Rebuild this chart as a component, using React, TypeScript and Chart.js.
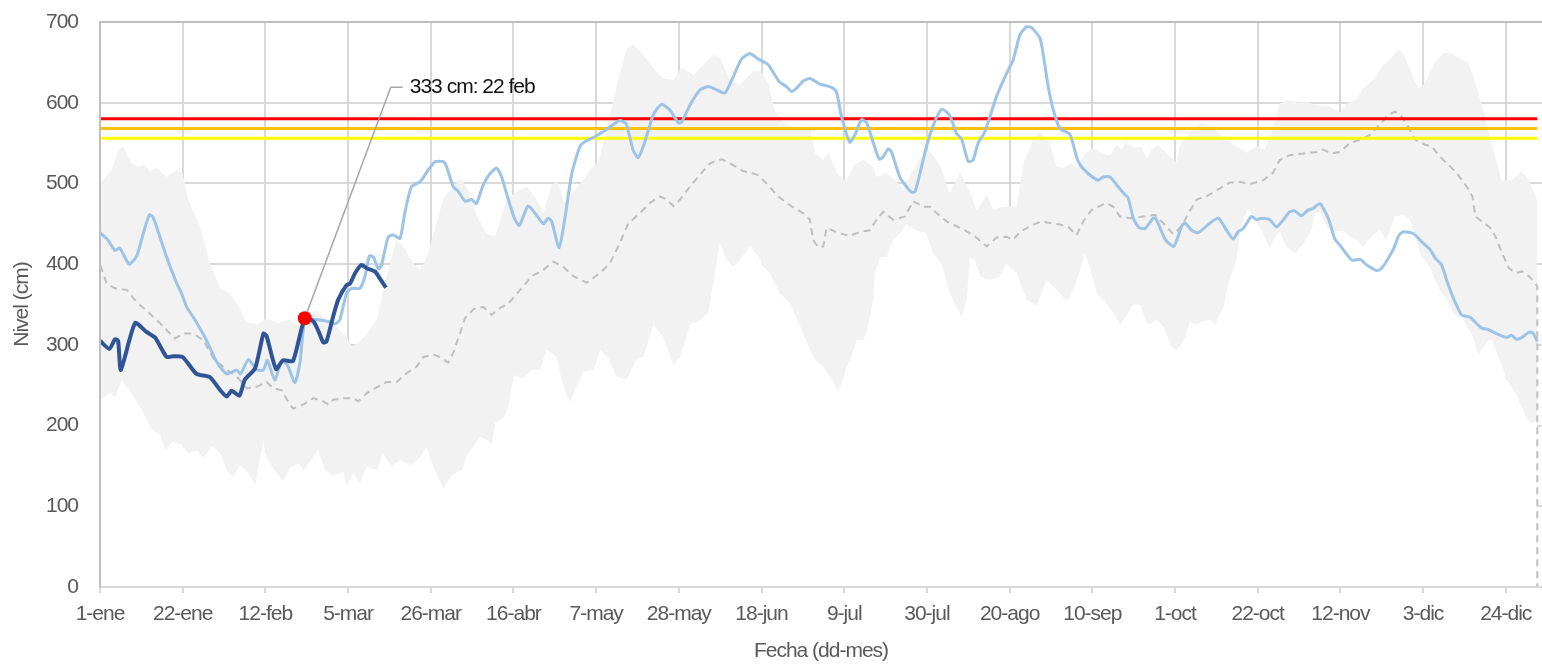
import { useEffect, useRef } from 'react';
import { Chart, registerables } from 'chart.js';

Chart.register(...registerables);

const FONT_FAMILY = "'Liberation Sans Narrow', 'Arial Narrow', 'Liberation Sans', Arial, sans-serif";
const FONT_SIZE = 21;

// x axis: day of year (0 = 1-ene)
const TICK_DAYS = [0, 21, 42, 63, 84, 105, 126, 147, 168, 189, 210, 231, 252, 273, 294, 315, 336, 357];
const TICK_LABELS = ['1-ene', '22-ene', '12-feb', '5-mar', '26-mar', '16-abr', '7-may', '28-may', '18-jun', '9-jul', '30-jul', '20-ago', '10-sep', '1-oct', '22-oct', '12-nov', '3-dic', '24-dic'];
const X_MAX = 366.2;
const Y_MAX = 700;
const Y_STEP = 100;

// Thresholds (cm)
const THRESHOLD_RED = 580;
const THRESHOLD_ORANGE = 568;
const THRESHOLD_YELLOW = 556;
const THRESHOLD_SPAN = [0, 365];

// Highlighted reading
const HIGHLIGHT_DAY = 52;
const HIGHLIGHT_VALUE = 333;
const HIGHLIGHT_DATE = '22 feb';

// Current year (dark blue)
const CURRENT_YEAR: [number, number][] = [
  [0, 305], [2.4, 295], [3.8, 307], [4.6, 305], [5.3, 269], [8.9, 327], [11.8, 316], [14, 309], [16.9, 285], [18.6, 286],
  [21, 285], [24.5, 264], [27.9, 260], [30.5, 244], [32.2, 236], [33.4, 243], [35.4, 237], [36.8, 257], [39.4, 271], [41.5, 314],
  [42.3, 311], [44.7, 270], [46.5, 281], [49, 280], [52, 333], [54.2, 329], [55.4, 318], [56.7, 303], [57.5, 304], [59.2, 335],
  [60.5, 356], [62.6, 374], [63.5, 376], [64.8, 389], [66.4, 399], [67.7, 395], [69.8, 391], [71.1, 382], [72.6, 371],
];

// Previous year (light blue)
const LAST_YEAR: [number, number][] = [
  [0, 439], [2, 430], [3.8, 417], [5, 420], [7.4, 400], [9.3, 410], [11, 438], [12.5, 461], [13.5, 458], [16.9, 409],
  [19.5, 376], [20.7, 364], [22, 347], [24.1, 331], [27, 306], [29.6, 279], [32.2, 264], [34.7, 269], [35.7, 264], [37.7, 282],
  [39.8, 269], [41.5, 269], [42.5, 281], [44.4, 256], [46.1, 280], [47.6, 275], [49.5, 253], [50.8, 279], [52.1, 331], [55, 331],
  [57, 330], [58, 329], [59.7, 326], [60.9, 331], [62.6, 364], [63.9, 370], [66, 370], [67.3, 385], [68.4, 410], [69.4, 409],
  [70.7, 394], [71.5, 399], [73.2, 434], [74.5, 436], [76.2, 432], [77.4, 463], [79.1, 496], [81.3, 502], [83.4, 517], [85.1, 527],
  [87.2, 527], [88, 521], [89.7, 496], [91, 490], [92.7, 478], [94.4, 480], [95.6, 475], [97.3, 498], [99, 512], [100.7, 519],
  [102, 508], [103.7, 480], [105.4, 455], [106.5, 448], [108.7, 472], [110.5, 463], [112.6, 450], [113.8, 457], [114.7, 453], [116.6, 420],
  [118, 455], [119.8, 512], [121.9, 546], [123.2, 552], [125.7, 558], [127.4, 563], [129.5, 570], [132, 578], [133.6, 574], [135.4, 541],
  [136.7, 532], [138.4, 552], [140.5, 585], [142.6, 598], [144.7, 591], [146.9, 575], [147.7, 576], [149.8, 597], [152.4, 616], [154.5, 620],
  [156.6, 616], [158.7, 612], [160.8, 632], [162.9, 654], [165, 661], [167.2, 654], [169.7, 647], [172.5, 626], [174.3, 620], [175.6, 614],
  [176.9, 618], [178.6, 627], [180.3, 630], [182.8, 623], [184.5, 621], [186.2, 618], [187.1, 612], [188.3, 583], [190.4, 551], [191.7, 560],
  [193.4, 579], [194.7, 575], [196.4, 550], [197.9, 530], [198.9, 533], [200.2, 543], [201, 539], [203.1, 508], [204.8, 496], [206.1, 489],
  [207, 490], [208.2, 512], [209.9, 546], [211.6, 572], [213.7, 592], [215.7, 585], [217.5, 562], [218.8, 555], [220.5, 527], [221.7, 529],
  [223, 550], [224.7, 564], [227.7, 608], [230.2, 636], [231.9, 653], [233.6, 684], [235.3, 694], [236.6, 693], [238.7, 680], [239.5, 661],
  [240.8, 620], [242.1, 591], [243.8, 568], [246.3, 561], [248, 533], [248.9, 523], [251, 512], [253.5, 504], [254.8, 508], [256.5, 508],
  [258.2, 498], [259.9, 488], [261.1, 482], [262.4, 457], [263.7, 446], [265.4, 444], [267.5, 457], [268.2, 456], [270.6, 430], [272.7, 422],
  [274.7, 447], [275.5, 451], [277.2, 442], [278.9, 439], [281.9, 451], [284, 457], [286.1, 442], [287.8, 431], [289, 440], [290.3, 444],
  [292.4, 459], [293.7, 455], [295, 457], [297.1, 455], [298.8, 446], [302.2, 465], [303.4, 466], [305.1, 460], [306.8, 467], [308.1, 469],
  [309.8, 475], [311.9, 457], [313.6, 431], [314.8, 424], [317.9, 405], [320, 406], [321.7, 399], [324.3, 392], [325.5, 395], [328.4, 418],
  [329.9, 436], [331, 440], [333.5, 438], [335.6, 428], [337.8, 418], [339, 408], [340.7, 399], [342, 380], [343.2, 364], [344.5, 349],
  [345.8, 337], [348, 334], [350.8, 321], [352.5, 319], [354.6, 314], [357.2, 309], [358.5, 312], [359.7, 307], [361, 309], [363.1, 316],
  [364, 314], [365, 304],
];

// Historical average (dashed)
const AVERAGE: [number, number][] = [
  [0, 0], [0, 400], [1.7, 376], [3.8, 370], [6.8, 368], [9.3, 353], [11.9, 342], [15.2, 327], [17.8, 314], [19, 308],
  [21.2, 314], [23.7, 314], [26.2, 306], [28.8, 283], [32.2, 269], [34.7, 261], [37.3, 246], [39.8, 248], [42.3, 254], [44, 246],
  [46.1, 244], [48.2, 226], [49.1, 221], [51.6, 226], [54.2, 234], [56.7, 230], [58, 226], [59.2, 232], [61.8, 234], [64.3, 234],
  [65.6, 230], [67.7, 240], [69.8, 246], [72.8, 254], [75.3, 254], [77.9, 265], [80.4, 273], [82.1, 285], [84.6, 288], [86.3, 285],
  [88.4, 278], [89.7, 290], [91.4, 314], [92.7, 333], [94.8, 344], [97.3, 347], [99.5, 337], [101.6, 346], [103.7, 351], [106.7, 368],
  [109.6, 385], [112.6, 393], [115.1, 403], [117.6, 397], [120.2, 385], [123.6, 377], [127, 389], [129.5, 401], [132, 426], [134.2, 451],
  [137.1, 463], [139.7, 476], [142.2, 484], [143.9, 480], [145.6, 472], [147.3, 480], [149.8, 496], [152.4, 511], [154.9, 525], [157.9, 530],
  [160, 525], [163.4, 515], [166.8, 511], [169.3, 500], [172.2, 484], [175.2, 473], [178.6, 463], [180.3, 455], [181.1, 430], [182.4, 421],
  [183.7, 422], [184.5, 445], [187.9, 438], [190.4, 435], [193, 440], [195.5, 442], [197.2, 455], [198.9, 465], [201.4, 455], [204.4, 459],
  [206.5, 478], [209.1, 471], [210.8, 471], [212.5, 463], [215, 453], [218.4, 445], [221.8, 436], [225.2, 422], [227.7, 433], [230.2, 434],
  [231.9, 430], [233.6, 440], [237, 449], [239.1, 453], [241.2, 451], [243.8, 449], [245.9, 446], [248, 436], [249.7, 453], [251.8, 467],
  [255.6, 476], [257.3, 471], [259, 459], [261.6, 457], [264.9, 459], [267.9, 461], [270, 451], [272.6, 437], [274.7, 447], [276.4, 463],
  [278.5, 480], [281, 484], [284.4, 494], [286.9, 501], [289.5, 502], [292, 499], [295.4, 504], [297.9, 513], [299.6, 529], [302.2, 535],
  [305.6, 537], [309, 539], [310.6, 542], [312.8, 537], [314.9, 539], [317.4, 550], [320, 554], [322.5, 560], [325, 573], [327.2, 585],
  [328.9, 589], [330.2, 585], [331.9, 573], [334, 554], [336.5, 548], [338.2, 546], [340.3, 533], [342.5, 523], [344.5, 513], [347.1, 496],
  [348.5, 484], [349.3, 459], [351.5, 451], [353.1, 445], [354.4, 434], [356.1, 413], [357.8, 395], [359.5, 389], [361.2, 391], [362.9, 385],
  [364.6, 376], [365, 372], [365, 0],
];

// Historical maximum (top of grey band)
const BAND_MAX: [number, number][] = [
  [0, 500], [3, 517], [4.6, 541], [5.9, 546], [8, 525], [9.7, 521], [11.4, 523], [12.7, 515], [14.4, 519], [16.9, 508],
  [19.5, 517], [21, 512], [22.4, 480], [25.4, 447], [27.9, 401], [30.5, 370], [33, 364], [34.7, 352], [37.2, 329], [39.8, 325],
  [42.3, 333], [44.9, 327], [48.2, 331], [50.8, 321], [53, 335], [55, 343], [57, 333], [59.2, 327], [62.6, 310], [63.9, 298],
  [65.6, 302], [67.7, 313], [70.3, 331], [72.8, 385], [75.3, 430], [77, 422], [79.6, 401], [81.3, 393], [83, 409], [85.5, 451],
  [87.2, 482], [89.7, 496], [91.8, 506], [93.5, 492], [95.7, 459], [98.2, 438], [100.3, 434], [103.3, 480], [105.8, 490], [108.4, 496],
  [110.9, 480], [112.6, 463], [114.7, 498], [116, 502], [118.1, 476], [120.2, 490], [122.7, 504], [124.9, 521], [126.5, 525], [128.7, 566],
  [131.2, 620], [133.7, 667], [135.4, 672], [138, 659], [140.5, 643], [143, 630], [145.6, 628], [147.7, 643], [150.7, 634], [153.2, 647],
  [155.7, 659], [157.4, 655], [160, 628], [162.5, 622], [165.9, 639], [167.6, 640], [169.7, 624], [171.4, 589], [173.9, 575], [176.5, 568],
  [180.3, 571], [181.7, 537], [183.7, 529], [185, 539], [187.1, 513], [189.2, 502], [191.7, 523], [193.8, 529], [196.4, 521], [197.2, 508],
  [199.8, 513], [202.3, 502], [204, 492], [206.1, 513], [208.2, 531], [210.3, 542], [213.3, 523], [215.8, 488], [218.4, 513], [220.9, 490],
  [222.6, 467], [225.2, 486], [226.8, 467], [229.4, 471], [232.8, 471], [234.5, 525], [237, 554], [238.7, 565], [241.2, 550], [242.9, 521],
  [244.6, 519], [246.7, 525], [248.3, 519], [250.1, 537], [252.2, 544], [254.4, 537], [256.5, 535], [258.2, 548], [259.4, 542], [260.7, 551],
  [262.8, 544], [264.5, 545], [265.8, 531], [267.1, 542], [268.7, 548], [271.3, 535], [273.4, 527], [274.2, 546], [275.9, 558], [279.3, 575],
  [281, 573], [283.6, 565], [286.1, 554], [288.6, 546], [291.2, 538], [293.7, 546], [295.8, 542], [297.5, 562], [299.6, 599], [301.8, 604],
  [303.9, 600], [306.4, 601], [309, 597], [311.9, 596], [314.9, 588], [316.6, 599], [319.1, 604], [320.8, 618], [323.3, 628], [325.9, 647],
  [327.6, 653], [329.7, 666], [331, 661], [332.7, 641], [334.8, 617], [336.5, 624], [338.6, 647], [341.1, 661], [342.8, 662], [345.4, 655],
  [347.5, 649], [348.7, 633], [351.3, 591], [353.8, 542], [355.9, 504], [358.5, 504], [361, 515], [362.7, 506], [365, 480],
];

// Historical minimum (bottom of grey band)
const BAND_MIN: [number, number][] = [
  [0, 235], [0.8, 234], [2.5, 240], [3.8, 235], [5.5, 257], [8.5, 236], [11, 215], [13.5, 193], [15.2, 190], [16.5, 170],
  [18.6, 180], [20.7, 176], [22.4, 166], [24.6, 169], [26.2, 160], [28.4, 174], [30.5, 166], [32.6, 141], [33.9, 137], [35.6, 151],
  [37.7, 141], [39.4, 126], [41.5, 182], [42.3, 160], [44, 147], [46.5, 131], [48.2, 147], [50.4, 153], [51.8, 145], [55.4, 170],
  [57.1, 145], [59.2, 137], [61.8, 143], [62.6, 126], [64.3, 141], [66, 129], [67.7, 149], [70.3, 145], [71.9, 165], [74, 150],
  [76.2, 157], [78.7, 151], [81, 159], [82.9, 174], [85, 145], [87.2, 122], [89.4, 139], [91.9, 145], [93.1, 162], [96.6, 186],
  [98.2, 182], [99.5, 176], [100.3, 203], [102.4, 209], [103.7, 223], [105, 263], [107.5, 258], [109.6, 269], [111.7, 269], [113.4, 294],
  [116, 285], [117.2, 256], [119.3, 228], [121, 248], [122.7, 267], [125.3, 269], [127, 294], [129.1, 283], [131.2, 261], [133.7, 256],
  [136.3, 283], [138, 285], [140.5, 325], [143, 310], [145.6, 275], [147.3, 285], [149.8, 325], [151.9, 329], [154.5, 340], [157.4, 426],
  [159.1, 405], [160.8, 397], [162.5, 405], [165, 422], [167.2, 410], [168.4, 397], [170.1, 389], [172.6, 364], [175.2, 352], [177.8, 323],
  [181.6, 281], [183.7, 273], [185.8, 257], [187.5, 242], [189.2, 267], [190.4, 281], [192.2, 306], [193.8, 306], [194.7, 316], [196.4, 356],
  [196.8, 389], [198.1, 409], [199.8, 409], [201.4, 430], [203.1, 438], [204.8, 449], [207.4, 442], [209.9, 438], [211.6, 413], [213.7, 401],
  [215.8, 364], [217.5, 347], [218.8, 335], [220.1, 356], [220.9, 409], [222.2, 405], [223.5, 385], [226, 380], [228.5, 385], [230.2, 401],
  [232.8, 389], [235.3, 356], [237.9, 349], [240.4, 380], [242.1, 372], [243.8, 364], [245.5, 354], [247.2, 368], [248.9, 393], [250.1, 413],
  [251.4, 397], [253.1, 364], [254.8, 356], [257.3, 340], [259, 325], [261.1, 339], [262.3, 350], [264.1, 350], [265.8, 327], [266.6, 325],
  [268.3, 331], [270, 323], [272.1, 298], [273.4, 294], [275.5, 308], [276.8, 329], [278.1, 325], [279.7, 329], [281.9, 331], [283.1, 325],
  [285.3, 347], [286.5, 376], [288.6, 405], [289.5, 438], [290.3, 455], [291.6, 469], [293.7, 453], [295.4, 438], [297.1, 420], [297.9, 430],
  [299.6, 440], [301.3, 422], [303.4, 413], [305.6, 426], [307.7, 442], [308.5, 463], [309.8, 465], [311.5, 447], [313.2, 440], [315.7, 442],
  [317.4, 434], [319.1, 430], [320.8, 422], [323.3, 436], [325, 442], [326.7, 430], [328.8, 459], [331, 461], [332.7, 455], [335.2, 413],
  [337.8, 397], [338.6, 385], [340.3, 368], [342, 356], [343.7, 339], [346.3, 331], [348.8, 308], [350, 288], [352.3, 304], [353.4, 306],
  [355.5, 281], [357.2, 257], [358.5, 248], [359.7, 238], [361, 223], [362.3, 209], [363.5, 203], [365, 207],
];

const toXY = (pts: [number, number][]) => pts.map(([x, y]) => ({ x, y }));
const flat = (v: number) => THRESHOLD_SPAN.map((x) => ({ x, y: v }));

const condensePlugin = {
  id: 'condenseText',
  beforeUpdate(chart: any) {
    if (chart.ctx) chart.ctx.letterSpacing = '-1px';
  },
  beforeDraw(chart: any) {
    if (chart.ctx) chart.ctx.letterSpacing = '-1px';
  },
};

const highlightPlugin = {
  id: 'highlightLabel',
  afterDatasetsDraw(chart: any) {
    const meta = chart.getDatasetMeta(1);
    const pt = meta && meta.data && meta.data[0];
    if (!pt) return;
    const { ctx } = chart;
    const px = pt.x;
    const py = pt.y;
    const ex = px + 86;
    const ey = py - 231;
    const dx = ex - px;
    const dy = ey - py;
    const len = Math.sqrt(dx * dx + dy * dy);
    ctx.save();
    ctx.strokeStyle = '#a6a6a6';
    ctx.lineWidth = 1.5;
    ctx.beginPath();
    ctx.moveTo(px + (dx / len) * 7, py + (dy / len) * 7);
    ctx.lineTo(ex, ey);
    ctx.lineTo(ex + 12, ey);
    ctx.stroke();
    ctx.fillStyle = '#111111';
    ctx.font = `${FONT_SIZE}px ${FONT_FAMILY}`;
    ctx.letterSpacing = '-1px';
    ctx.textAlign = 'left';
    ctx.textBaseline = 'middle';
    ctx.fillText(`${HIGHLIGHT_VALUE} cm: ${HIGHLIGHT_DATE}`, ex + 19, ey);
    ctx.restore();
  },
};

export default function App() {
  const canvasRef = useRef<HTMLCanvasElement | null>(null);

  useEffect(() => {
    const canvas = canvasRef.current;
    if (!canvas) return;
    Chart.defaults.font.family = FONT_FAMILY;
    Chart.defaults.font.size = FONT_SIZE;
    Chart.defaults.color = '#595959';

    const line = (extra: any) => ({
      pointRadius: 0,
      pointHoverRadius: 0,
      fill: false,
      tension: 0,
      ...extra,
    });

    const font = { size: FONT_SIZE, family: FONT_FAMILY };

    const chart = new Chart(canvas, {
      type: 'line',
      data: {
        datasets: [
          line({ label: 'Actual', data: toXY(CURRENT_YEAR), borderColor: '#2F5597', borderWidth: 4, tension: 0.2, order: 1 }),
          {
            label: 'Último dato',
            data: [{ x: HIGHLIGHT_DAY, y: HIGHLIGHT_VALUE }],
            showLine: false,
            pointRadius: 7,
            pointHoverRadius: 7,
            pointBackgroundColor: '#FF0000',
            pointBorderWidth: 0,
            borderColor: '#FF0000',
            order: 0,
          } as any,
          line({ label: 'Año anterior', data: toXY(LAST_YEAR), borderColor: '#9DC3E6', borderWidth: 3, tension: 0.2, order: 2 }),
          line({ label: 'Umbral rojo', data: flat(THRESHOLD_RED), borderColor: '#FF0000', borderWidth: 3, order: 3 }),
          line({ label: 'Umbral naranja', data: flat(THRESHOLD_ORANGE), borderColor: '#FFC000', borderWidth: 3, order: 4 }),
          line({ label: 'Umbral amarillo', data: flat(THRESHOLD_YELLOW), borderColor: '#FFFF00', borderWidth: 3, order: 5 }),
          line({ label: 'Promedio', data: toXY(AVERAGE), borderColor: '#BFBFBF', borderWidth: 2, borderDash: [7, 5], order: 6 }),
          line({ label: 'Máximo', data: toXY(BAND_MAX), borderWidth: 0, borderColor: 'rgba(0,0,0,0)', backgroundColor: '#F2F2F2', fill: 8, order: 7 }),
          line({ label: 'Mínimo', data: toXY(BAND_MIN), borderWidth: 0, borderColor: 'rgba(0,0,0,0)', backgroundColor: '#FFFFFF', fill: 'origin', order: 8 }),
        ],
      },
      options: {
        animation: false,
        responsive: true,
        maintainAspectRatio: false,
        events: [],
        layout: { autoPadding: false, padding: { top: 22, left: 0, right: 0, bottom: 0 } },
        plugins: {
          legend: { display: false },
          tooltip: { enabled: false },
        },
        scales: {
          x: {
            type: 'linear',
            min: 0,
            max: X_MAX,
            afterBuildTicks: (scale: any) => {
              scale.ticks = TICK_DAYS.map((value) => ({ value }));
            },
            afterFit: (scale: any) => {
              scale.height = 81;
              scale.paddingLeft = 0;
              scale.paddingRight = 0;
            },
            ticks: {
              autoSkip: false,
              maxRotation: 0,
              minRotation: 0,
              padding: 9,
              color: '#595959',
              font,
              callback: (value: any) => {
                const i = TICK_DAYS.indexOf(Number(value));
                return i >= 0 ? TICK_LABELS[i] : '';
              },
            },
            grid: {
              color: '#D9D9D9',
              lineWidth: 2,
              drawTicks: true,
              tickLength: 6,
              tickColor: '#D9D9D9',
            },
            border: { display: true, color: '#D9D9D9', width: 2, z: 1 },
            title: {
              display: true,
              text: 'Fecha (dd-mes)',
              color: '#595959',
              font,
              padding: { top: 0, bottom: 4 },
            },
          },
          y: {
            type: 'linear',
            min: 0,
            max: Y_MAX,
            afterFit: (scale: any) => {
              scale.width = 100;
              scale.paddingTop = 0;
              scale.paddingBottom = 0;
            },
            ticks: {
              stepSize: Y_STEP,
              padding: 22,
              color: '#595959',
              font,
            },
            grid: {
              color: (ctx: any) => (ctx.tick && ctx.tick.value === Y_MAX ? '#BFBFBF' : '#D9D9D9'),
              lineWidth: 2,
              drawTicks: false,
            },
            border: { display: true, color: '#BFBFBF', width: 2, z: 1 },
            title: {
              display: true,
              text: 'Nivel (cm)',
              color: '#595959',
              font,
              padding: { top: 10, bottom: 0 },
            },
          },
        },
      } as any,
      plugins: [condensePlugin, highlightPlugin],
    });

    return () => chart.destroy();
  }, []);

  return (
    <div style={{ position: 'fixed', left: 0, top: 0, width: 1542, height: 668, background: '#ffffff' }}>
      <canvas ref={canvasRef} />
    </div>
  );
}
